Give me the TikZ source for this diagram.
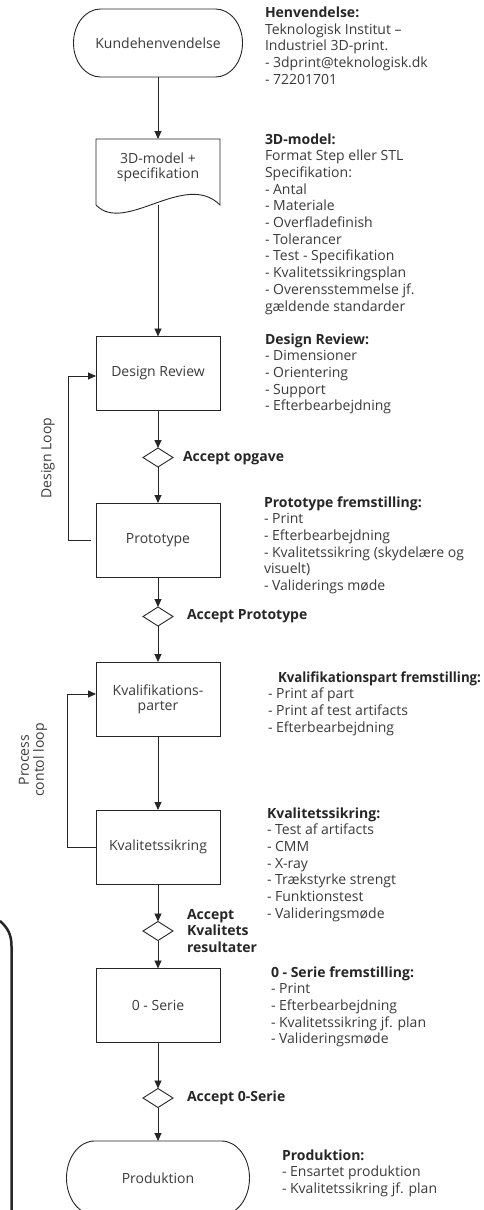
\documentclass[tikz,border=0pt]{standalone}
\usepackage{fontspec}
\usepackage{graphicx}
\setmainfont{Open Sans}
\usetikzlibrary{arrows.meta,shapes.geometric}
\definecolor{ink}{HTML}{262626}
\definecolor{txt}{HTML}{3A3A3A}
\newcommand{\fl}{\rule{0pt}{12pt}}
\newcommand{\hd}[1]{{\bfseries\color{ink}#1}}
\begin{document}
\begin{tikzpicture}[x=1pt,y=-1pt,
  every node/.style={font=\fontsize{14}{16.7}\selectfont, text=txt, inner sep=0pt, outer sep=0pt},
  box/.style={draw=ink, line width=0.9pt, minimum width=124pt, minimum height=74pt, align=center, font=\fontsize{14}{15}\selectfont},
  dec/.style={draw=ink, line width=0.9pt, shape=diamond, minimum width=30pt, minimum height=19pt},
  conn/.style={draw=ink, line width=0.9pt, -{Triangle[length=8pt,width=7pt]}},
  plain/.style={draw=ink, line width=0.9pt},
  info/.style={anchor=north west, align=left},
  acc/.style={anchor=west, align=left, font=\fontsize{14}{16.7}\selectfont\bfseries, text=ink},
]
\useasboundingbox (0,0) rectangle (483,1210);

% start terminator
\node[minimum width=169pt, minimum height=68pt] (k) at (158,43) {Kundehenvendelse};
\draw[plain] ([xshift=27pt]k.north west) -- ([xshift=-27pt]k.north east)
  arc[start angle=90, end angle=-90, x radius=27pt, y radius=34pt]
  -- ([xshift=27pt]k.south west)
  arc[start angle=270, end angle=90, x radius=27pt, y radius=34pt] -- cycle;

% document
\node[minimum width=124pt, minimum height=66pt] (doc) at (158,172) {};
\draw[plain] (doc.north west) -- (doc.north east) -- (doc.south east)
  .. controls (185,170) and (125,235) .. (doc.south west) -- cycle;
\node[align=center, font=\fontsize{14}{15}\selectfont] (doct) at (158,167.5) {3D-model +\\specifikation};

\node[box] (dr) at (158,373.5) {Design Review};
\node[dec] (d1) at (158,457.5) {};
\node[box] (pr) at (158,540) {Prototype};
\node[dec] (d2) at (158,616.5) {};
\node[box] (kp) at (158,699) {Kvalifikations-\\parter};
\node[box] (ks) at (158,847) {Kvalitetssikring};
\node[dec] (d3) at (158,931) {};
\node[box] (os) at (158,1005.5) {0 - Serie};
\node[dec] (d4) at (158,1098) {};

% end terminator
\node[minimum width=183pt, minimum height=74pt] (pd) at (158,1178) {Produktion};
\draw[plain] ([xshift=28pt]pd.north west) -- ([xshift=-28pt]pd.north east)
  arc[start angle=90, end angle=-90, x radius=28pt, y radius=37pt]
  -- ([xshift=28pt]pd.south west)
  arc[start angle=270, end angle=90, x radius=28pt, y radius=37pt] -- cycle;

% main flow
\draw[conn] (k.south) -- (doc.north);
\draw[conn] (doc.south) -- (dr.north);
\draw[conn] (dr.south) -- (d1.north);
\draw[conn] (d1.south) -- (pr.north);
\draw[conn] (pr.south) -- (d2.north);
\draw[conn] (d2.south) -- (kp.north);
\draw[conn] (kp.south) -- (ks.north);
\draw[conn] (ks.south) -- (d3.north);
\draw[conn] (d3.south) -- (os.north);
\draw[conn] (os.south) -- (d4.north);
\draw[conn] (d4.south) -- (pd.north);

% loops
\draw[conn] ([xshift=-5pt]pr.west) -| ([xshift=-28pt,yshift=-2.5pt]dr.west) -- ([yshift=-2.5pt]dr.west);
\draw[conn] (ks.west) -| ([xshift=-29pt,yshift=5pt]kp.west) -- ([yshift=5pt]kp.west);
\node[rotate=90] (dl) at (48,458) {Design Loop};
\node[rotate=90, align=center, font=\fontsize{14}{15}\selectfont] (pcl) at (33,760) {Process\\contol loop};

% decision labels
\node[acc] (a1) at (183,458) {Accept opgave};
\node[acc] (a2) at (187,616) {Accept Prototype};
\node[acc] (a3) at (187,931) {Accept\\Kvalitets\\resultater};
\node[acc] (a4) at (187,1098) {Accept 0-Serie};

% info blocks
\node[info] (i1) at (265,5.3) {\fl\hd{Henvendelse:}\\Teknologisk Institut –\\Industriel 3D-print.\\- 3dprint@teknologisk.dk\\- 72201701};
\node[info] (i2) at (265,132) {\fl\hd{3D-model:}\\Format Step eller STL\\Specifikation:\\- Antal\\- Materiale\\- Overfladefinish\\- Tolerancer\\- Test - Specifikation\\- Kvalitetssikringsplan\\- Overensstemmelse jf.\\gældende standarder};
\node[info] (i3) at (265,332) {\fl\hd{Design Review:}\\- Dimensioner\\- Orientering\\- Support\\- Efterbearbejdning};
\node[info] (i4) at (264,495) {\fl\hd{Prototype fremstilling:}\\- Print\\- Efterbearbejdning\\- Kvalitetssikring (skydelære og\\visuelt)\\- Validerings møde};
\node[info] (i5h) at (278,670) {\fl\resizebox{203pt}{\height}{\hd{Kvalifikationspart fremstilling:}}};
\node[info] (i5) at (268,686.7) {\fl- Print af part\\- Print af test artifacts\\- Efterbearbejdning};
\node[info] (i6) at (267,806) {\fl\hd{Kvalitetssikring:}\\- Test af artifacts\\- CMM\\- X-ray\\- Trækstyrke strengt\\- Funktionstest\\- Valideringsmøde};
\node[info] (i7) at (271,965) {\fl\hd{0 - Serie fremstilling:}\\- Print\\- Efterbearbejdning\\- Kvalitetssikring jf. plan\\- Valideringsmøde};
\node[info] (i8) at (282,1148) {\fl\hd{Produktion:}\\- Ensartet produktion\\- Kvalitetssikring jf. plan};

% cropped frame edge at left
\draw[draw=ink, line width=2.5pt] (0,921) .. controls (8,928) and (11.5,935) .. (11.5,946) -- (11.5,1215);
\end{tikzpicture}
\end{document}
